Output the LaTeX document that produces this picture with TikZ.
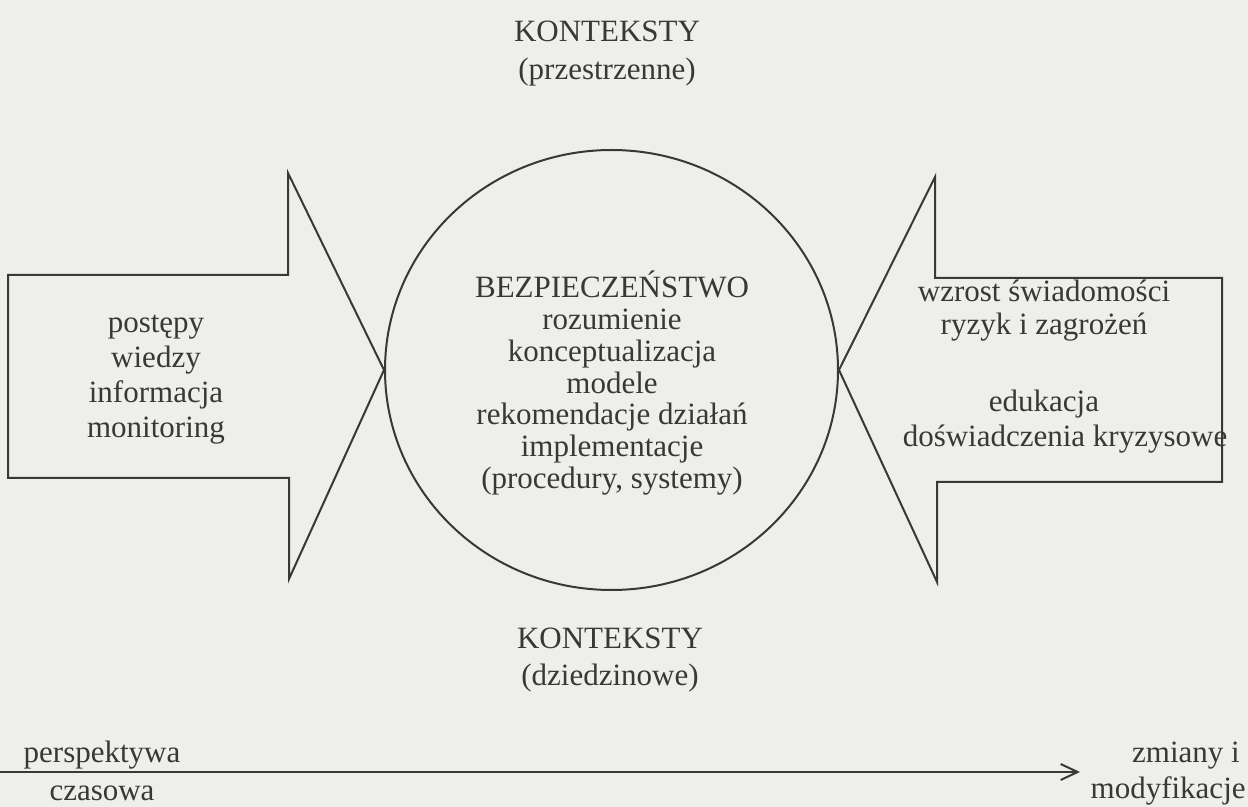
\documentclass[tikz,border=0pt]{standalone}
\usepackage{fontspec}
\setmainfont{Liberation Serif}
\usetikzlibrary{arrows.meta,shapes.geometric}
\definecolor{paper}{RGB}{238,239,236}
\definecolor{ink}{RGB}{58,56,53}
\begin{document}
\begin{tikzpicture}[x=0.5pt,y=-0.5pt,
  lbl/.style={text=ink,font=\fontsize{15.5}{18}\selectfont,inner sep=0pt,anchor=base},
  outline/.style={draw=ink,line width=1pt,line join=miter},
  timeline/.style={draw=ink,line width=1pt,-{Straight Barb[length=8.5pt,width=8pt]}}]
% page
\fill[paper] (0,0) rectangle (1248,807);
\useasboundingbox (0,0) rectangle (1248,807);

% central circle
\node[outline,ellipse,minimum width=226.5pt,minimum height=220pt,inner sep=0pt]
  (core) at (611.5,370) {};

% left block arrow pointing at the circle
\draw[outline] (288,173) -- (288,275) -- (8,275) -- (8,478) -- (289,478)
  -- (289,579) -- (core.west) -- cycle;
% right block arrow pointing at the circle
\draw[outline] (935,177) -- (935,278) -- (1222,278) -- (1222,482) -- (937,482)
  -- (937,582) -- (core.east) -- cycle;

% texts inside the circle
\foreach \t [count=\i] in {BEZPIECZEŃSTWO, rozumienie, konceptualizacja, modele,
    rekomendacje działań, implementacje, {(procedury, systemy)}}
  \node[lbl] (core\i) at (612,{298+31.7*(\i-1)}) {\t};

% left arrow texts
\foreach \t [count=\i] in {postępy, wiedzy, informacja, monitoring}
  \node[lbl] (in\i) at (156,{333+35*(\i-1)}) {\t};

% right arrow texts
\node[lbl] (out1) at (1044,302) {wzrost świadomości};
\node[lbl] (out2) at (1044,335) {ryzyk i zagrożeń};
\node[lbl] (out3) at (1044,412) {edukacja};
\node[lbl] (out4) at (1065,447) {doświadczenia kryzysowe};

% contexts above and below
\node[lbl] (topA) at (607,42) {KONTEKSTY};
\node[lbl] (topB) at (607,80) {(przestrzenne)};
\node[lbl] (botA) at (610,648) {KONTEKSTY};
\node[lbl] (botB) at (610,685) {(dziedzinowe)};

% time axis
\coordinate (tstart) at (0,772);
\coordinate (tend) at (1080,772);
\draw[timeline] (tstart) -- (tend);
\node[lbl] (perA) at (102,762) {perspektywa};
\node[lbl] (perB) at (102,800) {czasowa};
\node[lbl] (chgA) at (1186,762) {zmiany i};
\node[lbl,anchor=base east] (chgB) at (1246,798) {modyfikacje};
\end{tikzpicture}
\end{document}
